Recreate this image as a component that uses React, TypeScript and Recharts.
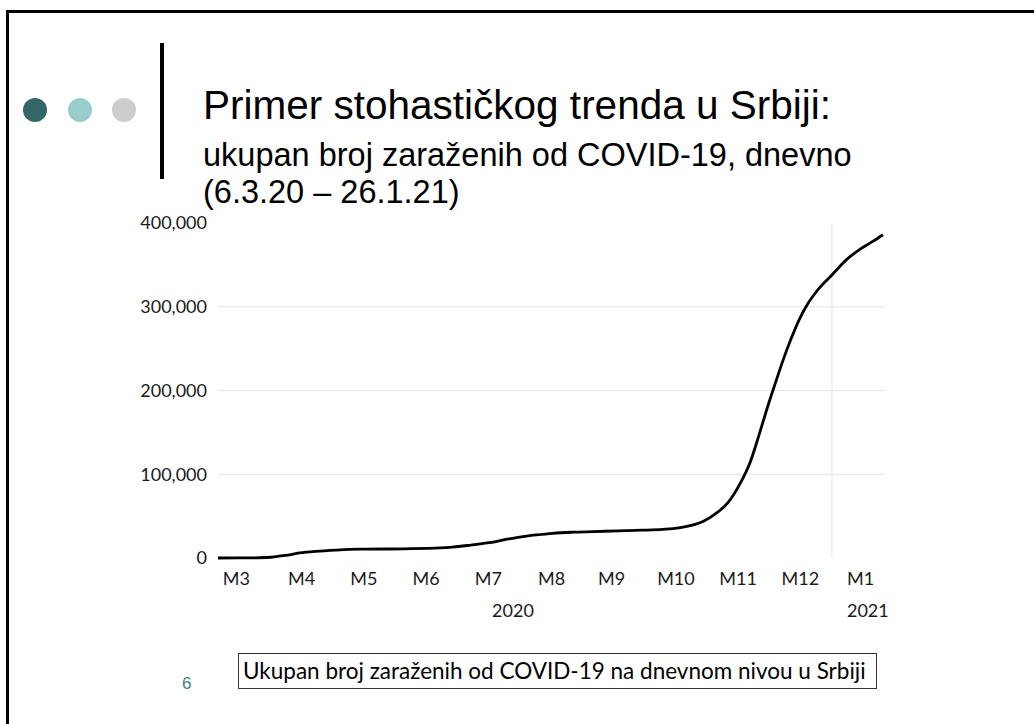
import { LineChart, Line, XAxis, YAxis, ReferenceLine } from 'recharts';

// days counted from 6.3.2020 (day 0) to 26.1.2021 (day 326)
const days = [
  0, 10, 20, 26, 33, 40, 48, 58, 70, 91, 109, 115, 124, 132, 140, 148, 156, 164, 174, 184,
  196, 208, 218, 226, 232, 238, 244, 250, 256, 261, 265, 269, 273, 277, 281, 285, 289, 294,
  301, 308, 315, 321, 326,
];
const totalCases = [
  0, 50, 300, 900, 3000, 6000, 8000, 9500, 10500, 11000, 12000, 13000, 15500, 18000, 21500,
  25000, 27500, 29500, 30800, 31500, 32400, 33200, 34200, 36000, 39000, 44000, 53000, 66000,
  89000, 115000, 145000, 177000, 207000, 236000, 262000, 285000, 303000, 320000, 338000,
  356000, 369000, 378000, 386000,
];

const monthTicks = [9, 41, 71.5, 102, 132.5, 163.5, 193, 224.5, 255, 285.5, 315];
const monthLabels = ['M3', 'M4', 'M5', 'M6', 'M7', 'M8', 'M9', 'M10', 'M11', 'M12', 'M1'];
const yearTicks = [144.6, 318.6];
const yearLabels = ['2020', '2021'];
const yTicks = [0, 100000, 200000, 300000, 400000];
const gridValues = [100000, 200000, 300000];
const yearBoundary = 301;

const chartData = days.map((d, i) => ({ day: d, cases: totalCases[i] }));

const tickFont = { fontFamily: 'Lato, "Open Sans", sans-serif', fontSize: 18, fill: '#1a1a1a' };
const arial = '"Liberation Sans", Arial, sans-serif';

export default function App() {
  return (
    <div style={{ position: 'absolute', left: 0, top: 0, width: 1034, height: 724, background: '#fff', overflow: 'hidden' }}>
      {/* slide frame */}
      <div style={{ position: 'absolute', left: 6, top: 10, width: 1100, height: 800, borderTop: '3px solid #000', borderLeft: '3px solid #000' }} />

      <LineChart
        width={1034}
        height={724}
        data={chartData}
        margin={{ top: 223, right: 149, left: 138, bottom: 106 }}
        style={{ position: 'absolute', left: 0, top: 0 }}
      >
        {gridValues.map(v => (
          <ReferenceLine key={v} y={v} stroke="#e3e3e3" strokeWidth={1} />
        ))}
        <ReferenceLine x={yearBoundary} stroke="#e3e3e3" strokeWidth={1} />
        <XAxis
          dataKey="day"
          type="number"
          domain={[0, 327]}
          ticks={monthTicks}
          interval={0}
          tickFormatter={(v: number) => monthLabels[monthTicks.indexOf(v)] ?? ''}
          axisLine={false}
          tickLine={false}
          tickSize={0}
          tickMargin={14}
          height={30}
          tick={tickFont}
        />
        <XAxis
          xAxisId="year"
          dataKey="day"
          type="number"
          domain={[0, 327]}
          ticks={yearTicks}
          interval={0}
          tickFormatter={(v: number) => yearLabels[yearTicks.indexOf(v)] ?? ''}
          axisLine={false}
          tickLine={false}
          tickSize={0}
          tickMargin={16}
          height={30}
          tick={tickFont}
        />
        <YAxis
          type="number"
          domain={[0, 400000]}
          ticks={yTicks}
          interval={0}
          tickFormatter={(v: number) => v.toLocaleString('en-US')}
          axisLine={false}
          tickLine={false}
          tickSize={0}
          tickMargin={11}
          width={80}
          tick={tickFont}
        />
        <Line
          type="monotone"
          dataKey="cases"
          stroke="#000"
          strokeWidth={2.8}
          dot={false}
          isAnimationActive={false}
        />
      </LineChart>

      {/* decorative dots and bar */}
      <div style={{ position: 'absolute', left: 23, top: 98, width: 24, height: 24, borderRadius: '50%', background: '#336666' }} />
      <div style={{ position: 'absolute', left: 68, top: 98, width: 24, height: 24, borderRadius: '50%', background: '#99CCCC' }} />
      <div style={{ position: 'absolute', left: 112, top: 98, width: 24, height: 24, borderRadius: '50%', background: '#CCCCCC' }} />
      <div style={{ position: 'absolute', left: 160, top: 43, width: 4, height: 136, background: '#000' }} />

      <div style={{ position: 'absolute', left: 203, top: 82, fontFamily: arial, fontSize: 40.5, lineHeight: '46px', whiteSpace: 'nowrap' }}>
        Primer stohastičkog trenda u Srbiji:
      </div>
      <div style={{ position: 'absolute', left: 203, top: 138, fontFamily: arial, fontSize: 32.5, lineHeight: '34px', whiteSpace: 'nowrap' }}>
        ukupan broj zaraženih od COVID-19, dnevno
      </div>
      <div style={{ position: 'absolute', left: 203, top: 175, fontFamily: arial, fontSize: 32.5, lineHeight: '34px', whiteSpace: 'nowrap' }}>
        (6.3.20 – 26.1.21)
      </div>

      <div
        style={{
          position: 'absolute',
          left: 238,
          top: 653,
          width: 639,
          height: 36,
          boxSizing: 'border-box',
          border: '1px solid #333',
          fontFamily: 'Lato, "Open Sans", sans-serif',
          fontSize: 22.5,
          lineHeight: '34px',
          paddingLeft: 4,
          color: '#000',
          whiteSpace: 'nowrap',
        }}
      >
        Ukupan broj zaraženih od COVID-19 na dnevnom nivou u Srbiji
      </div>

      <div style={{ position: 'absolute', left: 182, top: 674, fontFamily: arial, fontSize: 17, color: '#3F7F7F' }}>
        6
      </div>
    </div>
  );
}
